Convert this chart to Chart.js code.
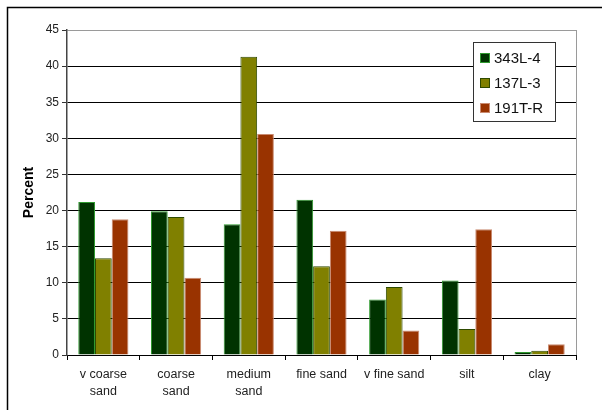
<!DOCTYPE html>
<html>
<head>
<meta charset="utf-8">
<script src="https://cdn.jsdelivr.net/npm/chart.js@4/dist/chart.umd.min.js"></script>
<style>
  html, body { margin: 0; padding: 0; background: #fff; }
  #wrap { width: 602px; height: 410px; position: relative; }
</style>
</head>
<body>
<div id="wrap"><canvas id="c" width="602" height="410"></canvas></div>
<script>
// Grain-size classes
const categories = [["v coarse", "sand"], ["coarse", "sand"], ["medium", "sand"], "fine sand", "v fine sand", "silt", "clay"];

// Percent of sample in each class
const s343L4 = [21.2, 19.9, 18.1, 21.5, 7.7, 10.3, 0.4];
const s137L3 = [13.4, 19.1, 41.3, 12.3, 9.4, 3.6, 0.6];
const s191TR = [18.8, 10.7, 30.6, 17.2, 3.4, 17.4, 1.5];

const seriesNames = ["343L-4", "137L-3", "191T-R"];
const yTicks = [0, 5, 10, 15, 20, 25, 30, 35, 40, 45];

const FONT = "'Liberation Sans', Arial, sans-serif";

// Frame lines, plot-area edge and the boxed legend
const decor = {
  id: 'decor',
  afterDraw(chart) {
    const ctx = chart.ctx;
    const a = chart.chartArea;
    ctx.save();
    // plot area right edge
    ctx.strokeStyle = '#9a9a9a';
    ctx.lineWidth = 1;
    ctx.beginPath();
    ctx.moveTo(Math.round(a.right) + 0.5, a.top);
    ctx.lineTo(Math.round(a.right) + 0.5, a.bottom);
    ctx.stroke();
    // outer frame
    ctx.strokeStyle = '#000';
    ctx.lineWidth = 1.5;
    ctx.beginPath();
    ctx.moveTo(7.5, 410);
    ctx.lineTo(7.5, 7.5);
    ctx.lineTo(602, 7.5);
    ctx.stroke();
    // legend
    const lx = 473.5, ly = 42.5, lw = 82, lh = 79;
    ctx.fillStyle = '#fff';
    ctx.fillRect(lx, ly, lw, lh);
    ctx.strokeStyle = '#333';
    ctx.lineWidth = 1;
    ctx.strokeRect(lx, ly, lw, lh);
    ctx.font = '15px ' + FONT;
    ctx.textBaseline = 'middle';
    chart.data.datasets.forEach((ds, i) => {
      const cy = 58 + i * 25;
      ctx.fillStyle = ds.backgroundColor;
      ctx.fillRect(480, cy - 5, 10, 10);
      ctx.strokeStyle = ds.borderColor;
      ctx.strokeRect(480.5, cy - 4.5, 9, 9);
      ctx.fillStyle = '#111';
      ctx.fillText(ds.label, 494, cy + 1);
    });
    ctx.restore();
  }
};

new Chart(document.getElementById('c'), {
  type: 'bar',
  data: {
    labels: categories,
    datasets: [
      { label: seriesNames[0], data: s343L4, backgroundColor: '#003300', borderColor: '#2f9a2f', borderWidth: 1 },
      { label: seriesNames[1], data: s137L3, backgroundColor: '#808000', borderColor: '#2e4a00', borderWidth: 1 },
      { label: seriesNames[2], data: s191TR, backgroundColor: '#993300', borderColor: '#c98a70', borderWidth: 1 }
    ]
  },
  options: {
    responsive: false,
    animation: false,
    devicePixelRatio: 1,
    layout: { padding: { left: 14, top: 30, right: 26, bottom: 0 } },
    datasets: { bar: { categoryPercentage: 0.69, barPercentage: 1.0 } },
    plugins: { legend: { display: false }, tooltip: { enabled: false } },
    scales: {
      x: {
        offset: true,
        grid: { display: true, drawOnChartArea: false, offset: true, color: '#000', tickLength: 5 },
        border: { color: '#000', width: 1 },
        ticks: { font: { family: FONT, size: 12.5, lineHeight: 1.35 }, color: '#222', padding: 6, maxRotation: 0, autoSkip: false },
        afterFit(s) { s.height = 55; }
      },
      y: {
        min: 0, max: 45,
        afterBuildTicks(s) { s.ticks = yTicks.map(v => ({ value: v })); },
        grid: {
          color: ctx => (ctx.tick && ctx.tick.value === 45) ? '#9a9a9a' : (ctx.tick && ctx.tick.value === 0 ? 'rgba(0,0,0,0)' : '#000'),
          tickColor: '#333',
          tickLength: 5
        },
        border: { color: '#444', width: 1.5 },
        ticks: { font: { family: FONT, size: 12 }, color: '#222', padding: 3 },
        title: { display: true, text: 'Percent', font: { family: FONT, size: 14, weight: 'bold' }, color: '#000', padding: { top: 7, bottom: 0 } },
        afterFit(s) { s.width = 53; }
      }
    }
  },
  plugins: [decor]
});
</script>
</body>
</html>
